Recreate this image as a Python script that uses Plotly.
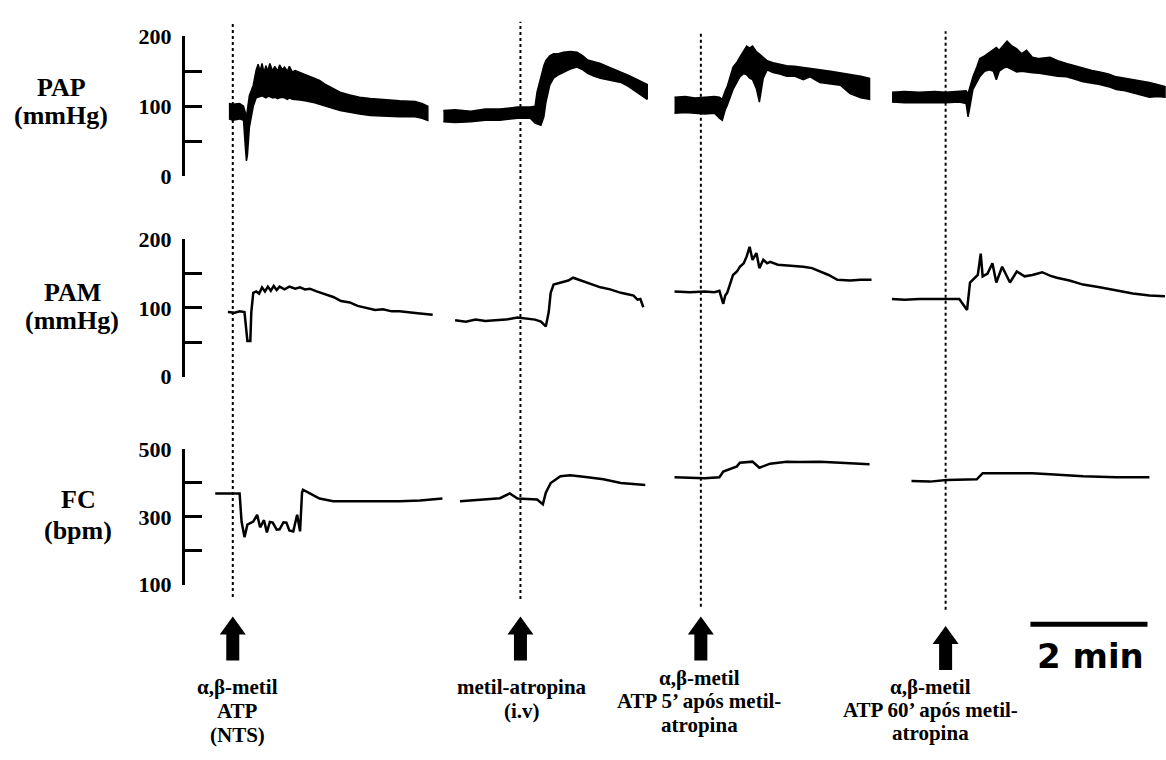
import plotly.graph_objects as go

# ---------------- data ----------------
# injection times on the display time axis (s)
EVENTS = [49, 344, 529, 780]

# PAP (mmHg): pulsatile band, time relative to injection (s), upper / lower envelope
pap1_t = [-4, 0, 7, 11, 13, 14, 15, 17, 21, 24, 26, 28, 30, 32, 34, 36, 38, 41, 43, 46, 48, 51, 53, 56, 58, 61, 64, 69, 74, 79, 84, 89, 94, 99, 105, 110, 120, 130, 141, 156, 171, 187, 194, 200]
pap1_hi = [104, 103, 104, 100, 90, 85, 95, 115, 130, 152, 160, 150, 161, 148, 158, 150, 161, 150, 157, 150, 159, 152, 156, 150, 157, 149, 151, 148, 146, 143, 140, 137, 132, 128, 123, 120, 116, 113, 111, 109, 108, 107, 104, 100]
pap1_lo = [82, 80, 82, 80, 40, 22, 30, 70, 100, 112, 113, 114, 115, 113, 112, 114, 114, 112, 113, 111, 112, 113, 112, 110, 112, 110, 110, 109, 108, 107, 105, 103, 101, 99, 96, 94, 91, 89, 87, 86, 85, 85, 83, 80]

pap2_t = [-79, -67, -51, -36, -21, -3, 10, 15, 17, 21, 24, 26, 30, 34, 39, 44, 51, 58, 64, 69, 75, 82, 92, 103, 111, 120, 126, 130]
pap2_hi = [94, 95, 93, 96, 96, 99, 99, 100, 120, 142, 158, 165, 172, 175, 175, 177, 178, 177, 172, 166, 164, 161, 155, 149, 144, 138, 134, 131]
pap2_lo = [78, 77, 78, 80, 80, 83, 83, 76, 75, 73, 85, 105, 130, 140, 145, 149, 153, 156, 152, 147, 143, 140, 137, 134, 128, 120, 114, 110]

pap3_t = [-27, -16, -6, 4, 14, 19, 22, 25, 27, 33, 37, 40, 44, 47, 50, 53, 57, 60, 64, 68, 74, 81, 88, 96, 105, 112, 122, 133, 143, 153, 164, 173]
pap3_hi = [113, 114, 112, 113, 114, 113, 110, 122, 128, 156, 163, 170, 180, 186, 183, 186, 178, 175, 170, 165, 162, 160, 158, 157, 155, 154, 152, 150, 148, 145, 143, 140]
pap3_lo = [90, 91, 90, 89, 90, 83, 80, 95, 101, 124, 135, 142, 147, 145, 140, 138, 125, 106, 140, 152, 148, 146, 143, 143, 138, 142, 134, 132, 130, 118, 112, 110]

pap4_t = [-55, -42, -27, -11, 0, 14, 21, 23, 25, 28, 32, 35, 40, 45, 49, 52, 55, 60, 63, 68, 73, 78, 83, 89, 96, 107, 115, 124, 132, 141, 150, 158, 167, 175, 184, 192, 201, 209, 217, 225]
pap4_hi = [120, 121, 120, 121, 120, 121, 122, 118, 128, 142, 156, 168, 172, 177, 180, 184, 180, 188, 193, 186, 182, 175, 180, 170, 168, 170, 165, 161, 158, 154, 151, 149, 146, 142, 140, 138, 136, 134, 131, 128]
pap4_lo = [106, 105, 104, 105, 105, 106, 104, 85, 100, 124, 135, 142, 150, 152, 150, 138, 150, 155, 156, 152, 149, 150, 149, 148, 147, 145, 143, 142, 139, 135, 133, 131, 128, 124, 122, 120, 116, 113, 114, 113]

# PAM (mmHg)
pam1_t = [-5, 2, 7, 12, 14, 15, 18, 19, 21, 24, 27, 30, 33, 36, 39, 42, 45, 48, 53, 58, 64, 69, 74, 79, 86, 94, 103, 111, 120, 128, 137, 146, 154, 163, 171, 182, 192, 205]
pam1 = [94, 93, 95, 94, 66, 52, 52, 94, 122, 124, 121, 130, 124, 131, 125, 132, 126, 131, 127, 131, 128, 130, 127, 128, 124, 120, 116, 110, 108, 103, 100, 97, 98, 95, 95, 93, 92, 90]

pam2_t = [-67, -56, -46, -36, -26, -15, -3, 5, 15, 21, 26, 29, 31, 34, 39, 44, 49, 54, 62, 69, 76, 82, 92, 103, 110, 116, 120, 123, 126]
pam2 = [82, 80, 83, 81, 82, 83, 86, 85, 83, 80, 73, 94, 122, 134, 136, 139, 140, 144, 140, 137, 133, 130, 127, 122, 120, 118, 112, 113, 101]

pam3_t = [-27, -11, 4, 14, 19, 23, 25, 27, 33, 37, 40, 44, 47, 50, 53, 57, 60, 64, 68, 71, 79, 88, 96, 105, 114, 122, 131, 140, 153, 164, 175]
pam3 = [124, 123, 124, 123, 125, 106, 118, 122, 148, 153, 160, 165, 175, 189, 170, 180, 158, 170, 165, 167, 163, 162, 161, 160, 158, 153, 148, 141, 140, 141, 141]

pam4_t = [-55, -42, -27, -11, 4, 14, 22, 25, 33, 36, 38, 43, 48, 52, 58, 66, 73, 81, 89, 99, 107, 114, 127, 141, 158, 175, 192, 209, 225]
pam4 = [113, 112, 113, 113, 113, 113, 97, 137, 148, 179, 146, 150, 165, 137, 160, 137, 153, 146, 148, 152, 147, 144, 140, 134, 130, 125, 121, 118, 117]

# FC (bpm)
fc1_t = [-18, 7, 9, 12, 15, 21, 25, 28, 32, 35, 38, 41, 45, 48, 52, 55, 58, 62, 66, 69, 71, 72, 79, 89, 103, 120, 137, 154, 171, 192, 215]
fc1 = [369, 369, 286, 240, 277, 286, 306, 269, 290, 254, 285, 283, 262, 263, 284, 283, 260, 257, 306, 257, 371, 380, 369, 354, 346, 346, 347, 345, 346, 348, 354]

fc2_t = [-62, -46, -31, -21, -11, -3, 17, 23, 26, 31, 41, 51, 69, 85, 103, 116, 128]
fc2 = [346, 349, 352, 355, 369, 354, 351, 337, 371, 400, 420, 423, 417, 411, 400, 397, 394]

fc3_t = [-27, -11, 4, 19, 23, 37, 40, 53, 60, 71, 88, 101, 122, 143, 173]
fc3 = [417, 415, 414, 417, 434, 449, 460, 463, 445, 457, 463, 462, 463, 460, 455]

fc4_t = [-35, -16, 1, 19, 32, 38, 55, 89, 107, 141, 175, 209]
fc4 = [406, 404, 409, 410, 411, 429, 429, 429, 426, 420, 417, 417]

# axis ticks
pap_ticks = [0, 50, 100, 150, 200]
pap_ticktext = ["0", "", "100", "", "200"]
fc_ticks = [100, 200, 300, 400, 500]
fc_ticktext = ["100", "", "300", "", "500"]

panel_labels = [("PAP", "(mmHg)"), ("PAM", "(mmHg)"), ("FC", "(bpm)")]
event_labels = [
    ["α,β-metil", "ATP", "(NTS)"],
    ["metil-atropina", "(i.v)"],
    ["α,β-metil", "ATP 5’ após metil-", "atropina"],
    ["α,β-metil", "ATP 60’ após metil-", "atropina"],
]
scale_bar_s = 120
scale_label = "2 min"

# ---------------- figure ----------------
W, H = 1166, 760


def py(p):
    return 1 - p / H


def px(p):
    return p / W


fig = go.Figure()

pap_segs = [(pap1_t, pap1_hi, pap1_lo), (pap2_t, pap2_hi, pap2_lo),
            (pap3_t, pap3_hi, pap3_lo), (pap4_t, pap4_hi, pap4_lo)]
for ev, (t, hi, lo) in zip(EVENTS, pap_segs):
    xs = [ev + v for v in t]
    fig.add_trace(go.Scatter(
        x=xs + xs[::-1], y=hi + lo[::-1], mode="lines", fill="toself",
        fillcolor="black", line=dict(color="black", width=1.5),
        xaxis="x", yaxis="y", hoverinfo="skip", showlegend=False))

for ev, (t, v) in zip(EVENTS, [(pam1_t, pam1), (pam2_t, pam2), (pam3_t, pam3), (pam4_t, pam4)]):
    fig.add_trace(go.Scatter(
        x=[ev + s for s in t], y=v, mode="lines",
        line=dict(color="black", width=2.5, shape="linear"),
        xaxis="x", yaxis="y2", hoverinfo="skip", showlegend=False))

for ev, (t, v) in zip(EVENTS, [(fc1_t, fc1), (fc2_t, fc2), (fc3_t, fc3), (fc4_t, fc4)]):
    fig.add_trace(go.Scatter(
        x=[ev + s for s in t], y=v, mode="lines",
        line=dict(color="black", width=2.5),
        xaxis="x", yaxis="y3", hoverinfo="skip", showlegend=False))

tickfont = dict(family="Liberation Serif", size=22, color="black", weight="bold")
ycommon = dict(anchor="x", showline=True, linewidth=3, linecolor="black",
               ticks="inside", ticklen=17, tickwidth=3, tickcolor="black",
               showgrid=False, zeroline=False, tickfont=tickfont,
               ticklabelstandoff=6, fixedrange=True)

fig.update_layout(
    width=W, height=H, margin=dict(l=0, r=0, t=0, b=0),
    paper_bgcolor="white", plot_bgcolor="white", showlegend=False,
    xaxis=dict(domain=[px(185), 1], range=[0, 1006], visible=False, fixedrange=True),
    yaxis=dict(domain=[py(170), py(25)], range=[0, 200], tickvals=pap_ticks,
               ticktext=pap_ticktext, **ycommon),
    yaxis2=dict(domain=[py(377), py(235)], range=[0, 200], tickvals=pap_ticks,
                ticktext=pap_ticktext, **ycommon),
    yaxis3=dict(domain=[py(592), py(452)], range=[100, 500], tickvals=fc_ticks,
                ticktext=fc_ticktext, **ycommon),
)

shapes = []
# dotted injection lines
dot_extent = [(10, 605), (10, 607), (20, 615), (20, 618)]
for ev, (top, bot) in zip(EVENTS, dot_extent):
    shapes.append(dict(type="line", xref="x", yref="paper", x0=ev, x1=ev,
                       y0=py(bot), y1=py(top),
                       line=dict(color="black", width=2, dash="dot")))
# arrows
arrow_tip = [625, 625, 625, 635]
arrow_path = "M0,0 L13,-18 L6.5,-18 L6.5,-44 L-6.5,-44 L-6.5,-18 L-13,-18 Z"
for ev, tip in zip(EVENTS, arrow_tip):
    shapes.append(dict(type="path", xref="x", yref="paper",
                       xsizemode="pixel", ysizemode="pixel",
                       xanchor=ev, yanchor=py(tip), path=arrow_path,
                       fillcolor="black", line=dict(color="black", width=0)))
# scale bar
shapes.append(dict(type="line", xref="x", yref="paper", x0=867, x1=867 + scale_bar_s,
                   y0=py(633), y1=py(633), line=dict(color="black", width=5)))
fig.update_layout(shapes=shapes)

annotations = []
lab_font = dict(family="Liberation Serif", size=26, color="black", weight="bold")
panel_pos = [(61, 78, 107), (72, 290, 319), (78, 504, 536)]
for (l1, l2), (cx, y1, y2) in zip(panel_labels, panel_pos):
    annotations.append(dict(text=l1, x=px(cx), y=py(y1), xref="paper", yref="paper",
                            showarrow=False, xanchor="center", yanchor="middle", font=lab_font))
    annotations.append(dict(text=l2, x=px(cx), y=py(y2), xref="paper", yref="paper",
                            showarrow=False, xanchor="center", yanchor="middle", font=lab_font))

ev_font = dict(family="Liberation Serif", size=21, color="black", weight="bold")
label_pos = [(237, [698, 723, 748]), (522, [698, 723]), (699, [689, 712, 737]), (930, [698, 722, 746])]
for lines, (cx, ys) in zip(event_labels, label_pos):
    for line, yy in zip(lines, ys):
        annotations.append(dict(text=line, x=px(cx), y=py(yy), xref="paper", yref="paper",
                                showarrow=False, xanchor="center", yanchor="middle", font=ev_font))

annotations.append(dict(text=scale_label, x=px(1090), y=py(666), xref="paper", yref="paper",
                        showarrow=False, xanchor="center", yanchor="middle",
                        font=dict(family="DejaVu Sans", size=34, color="black", weight="bold")))
fig.update_layout(annotations=annotations)

fig.write_html("out.html")
